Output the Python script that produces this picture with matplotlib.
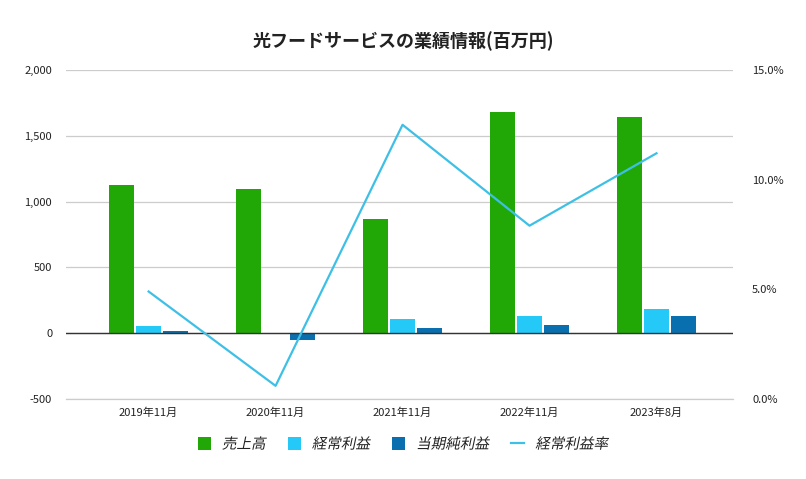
import matplotlib.pyplot as plt
import numpy as np
from matplotlib.ticker import FuncFormatter
from matplotlib import patheffects
from matplotlib.transforms import Affine2D

plt.rcParams['font.family'] = ['Noto Sans CJK JP', 'DejaVu Sans']

# data (百万円)
periods = ['2019年11月', '2020年11月', '2021年11月', '2022年11月', '2023年8月']
sales = [1125, 1094, 866, 1680, 1641]
ordinary_profit = [53, 5, 106, 129, 182]
net_profit = [15, -50, 38, 61, 129]
ordinary_margin = [4.9, 0.6, 12.5, 7.9, 11.2]

c_sales = '#22a806'
c_ord = '#25c9f7'
c_net = '#0a6fae'
c_line = '#3ec0e6'


# CJK font has no italic face, so slant the glyph paths
class Slant(patheffects.AbstractPathEffect):
    def draw_path(self, renderer, gc, tpath, affine, rgbFace=None):
        renderer.draw_path(gc, tpath, Affine2D().skew_deg(12, 0) + affine, rgbFace)


fig = plt.figure(figsize=(8.06, 4.79), dpi=100)
ax = fig.add_axes([0.082, 0.167, 0.827, 0.687])
ax2 = ax.twinx()

x = np.arange(len(periods))
w = 0.2
ax.bar(x - w - 0.012, sales, w * 0.97, color=c_sales, label='売上高', zorder=3)
ax.bar(x, ordinary_profit, w * 0.97, color=c_ord, label='経常利益', zorder=3)
ax.bar(x + w + 0.012, net_profit, w * 0.97, color=c_net, label='当期純利益', zorder=3)
ln, = ax2.plot(x, ordinary_margin, color=c_line, lw=1.6, label='経常利益率')

ax.set_xlim(-0.65, 4.6)
ax.set_ylim(-500, 2000)
ax.set_yticks([-500, 0, 500, 1000, 1500, 2000])
ax.yaxis.set_major_formatter(FuncFormatter(lambda v, p: f'{int(v):,}'))
ax.grid(axis='y', color='#cccccc', lw=0.9, zorder=0)
ax.axhline(-500, color='#cccccc', lw=0.9, zorder=0, clip_on=False)
ax.axhline(0, color='#333333', lw=1, zorder=4)

ax2.set_ylim(0, 15)
ax2.set_yticks([0, 5, 10, 15])
ax2.yaxis.set_major_formatter(FuncFormatter(lambda v, p: f'{v:.1f}%'))

ax.set_xticks(x)
ax.set_xticklabels(periods)

for a in (ax, ax2):
    for s in a.spines.values():
        s.set_visible(False)
    a.tick_params(length=0, labelsize=8, colors='#222222')
ax.tick_params(axis='y', pad=10)
ax2.tick_params(axis='y', pad=14)
ax.tick_params(axis='x', pad=6)

fig.suptitle('光フードサービスの業績情報(百万円)', x=0.5, y=0.935, fontsize=13,
             fontweight='bold', color='#222222')

h1, l1 = ax.get_legend_handles_labels()
leg = fig.legend(h1 + [ln], l1 + ['経常利益率'], loc='center', bbox_to_anchor=(0.5, 0.072),
                 ncol=4, frameon=False, handlelength=0.9, handleheight=0.9,
                 handletextpad=0.75, columnspacing=1.5,
                 prop={'size': 10.5})
for t in leg.get_texts():
    t.set_color('#222222')
    t.set_path_effects([Slant()])

fig.savefig('out.png', dpi=100)
